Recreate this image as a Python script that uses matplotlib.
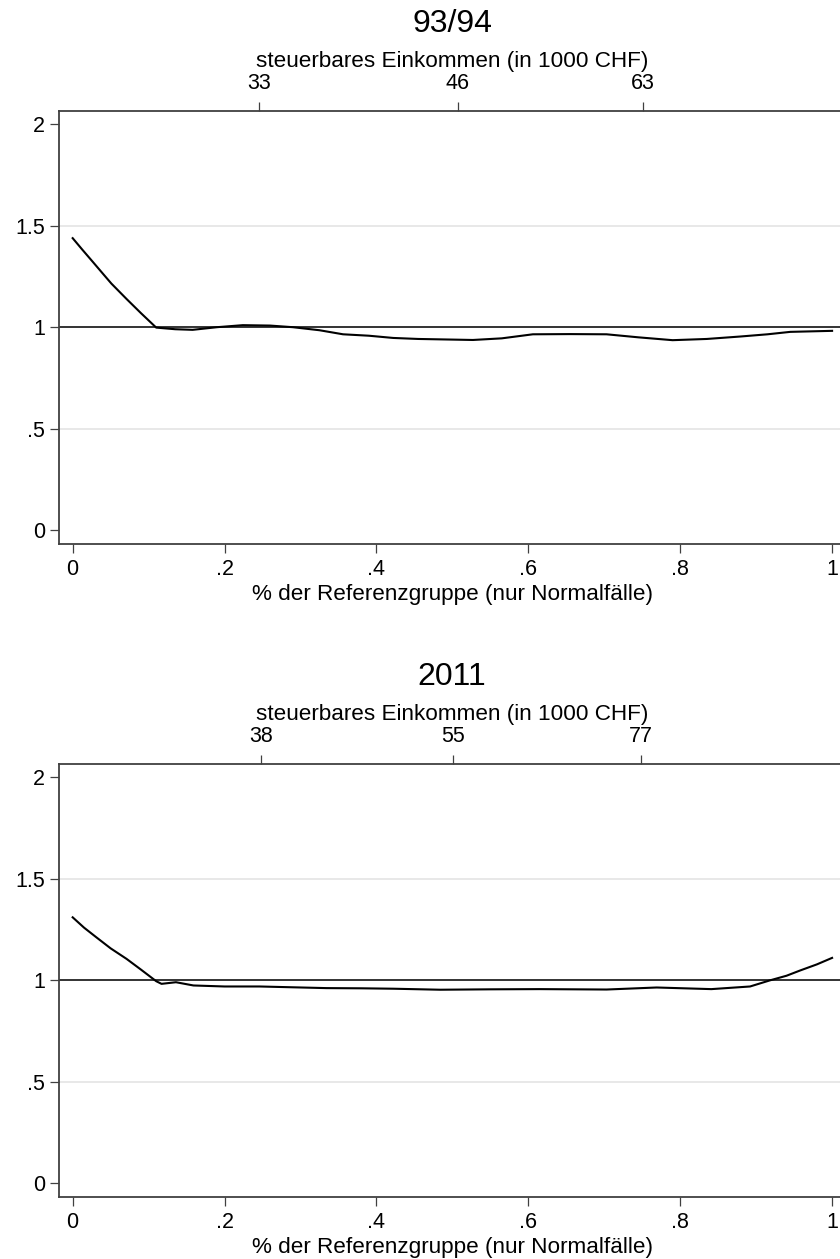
import numpy as np
import matplotlib
matplotlib.use("Agg")
import matplotlib.pyplot as plt

plt.rcParams['font.family'] = ['Liberation Sans', 'DejaVu Sans']

# Daten
titel = ["93/94", "2011"]

x_9394 = [0.0, 0.013, 0.027, 0.040, 0.051, 0.071, 0.090, 0.110, 0.135, 0.158,
          0.190, 0.224, 0.260, 0.290, 0.325, 0.356, 0.390, 0.422, 0.455,
          0.484, 0.527, 0.565, 0.606, 0.655, 0.703, 0.745, 0.790, 0.835,
          0.879, 0.915, 0.945, 1.0]
y_9394 = [1.439, 1.381, 1.32, 1.263, 1.215, 1.139, 1.069, 0.998, 0.99, 0.987,
          1.0, 1.01, 1.008, 1.0, 0.985, 0.965, 0.958, 0.947, 0.942,
          0.94, 0.937, 0.945, 0.965, 0.966, 0.965, 0.95, 0.936, 0.942,
          0.954, 0.965, 0.977, 0.982]

x_2011 = [0.0, 0.015, 0.031, 0.050, 0.071, 0.090, 0.110, 0.117, 0.136, 0.159,
          0.200, 0.246, 0.290, 0.334, 0.380, 0.422, 0.484, 0.550, 0.615,
          0.703, 0.769, 0.841, 0.892, 0.918, 0.940, 0.958, 0.980, 1.0]
y_2011 = [1.310, 1.259, 1.212, 1.157, 1.105, 1.052, 0.995, 0.982, 0.99, 0.974,
          0.969, 0.969, 0.965, 0.961, 0.96, 0.958, 0.953, 0.955, 0.956,
          0.954, 0.964, 0.956, 0.969, 0.999, 1.022, 1.048, 1.078, 1.110]

# obere Achse: Einkommen an den Quartilen
oben_pos_9394 = [0.245, 0.507, 0.751]
oben_lab_9394 = ["33", "46", "63"]
oben_pos_2011 = [0.248, 0.501, 0.748]
oben_lab_2011 = ["38", "55", "77"]

x_ticks = [0, 0.2, 0.4, 0.6, 0.8, 1.0]
x_ticklabels = ["0", ".2", ".4", ".6", ".8", "1"]
y_ticks = [0, 0.5, 1, 1.5, 2]
y_ticklabels = ["0", ".5", "1", "1.5", "2"]

panels = [
    (titel[0], x_9394, y_9394, oben_pos_9394, oben_lab_9394),
    (titel[1], x_2011, y_2011, oben_pos_2011, oben_lab_2011),
]

W, H = 840, 1259
fig = plt.figure(figsize=(W / 100, H / 100), dpi=100)

achse = '#404040'
# Position der Plotflächen in Pixel (oben, unten)
pix = [(111, 544), (764, 1197)]
left_px, right_px = 59, 845

for (t, xs, ys, op, ol), (top_px, bot_px) in zip(panels, pix):
    ax = fig.add_axes([left_px / W, 1 - bot_px / H,
                       (right_px - left_px) / W, (bot_px - top_px) / H])
    ax.set_xlim(-0.018, 1.017)
    ax.set_ylim(-0.069, 2.066)

    for g in [0.5, 1.5]:
        ax.axhline(g, color='#e6e6e6', lw=1.3, zorder=1)
    ax.axhline(1, color='#333333', lw=1.4, zorder=2)
    ax.plot(xs, ys, color='black', lw=1.5, zorder=3)

    ax.set_xticks(x_ticks)
    ax.set_xticklabels(x_ticklabels)
    ax.set_yticks(y_ticks)
    ax.set_yticklabels(y_ticklabels)
    ax.tick_params(axis='both', direction='out', length=6.5, width=0.9,
                   color=achse, labelsize=15.5)
    ax.tick_params(axis='x', pad=4)
    ax.tick_params(axis='y', pad=3.5)
    ax.set_xlabel("% der Referenzgruppe (nur Normalfälle)", fontsize=16.2,
                  labelpad=3)
    for s in ['left', 'bottom', 'top']:
        ax.spines[s].set_color(achse)
        ax.spines[s].set_linewidth(1.3)
    ax.spines['right'].set_visible(False)

    ax2 = ax.twiny()
    ax2.set_xlim(ax.get_xlim())
    ax2.set_xticks(op)
    ax2.set_xticklabels(ol)
    ax2.tick_params(axis='x', direction='out', length=6.5, width=0.9,
                    color=achse, labelsize=15.5, pad=6)
    ax2.set_xlabel("steuerbares Einkommen (in 1000 CHF)", fontsize=16.2,
                   labelpad=4)
    for s in ax2.spines.values():
        s.set_visible(False)
    ax2.set_title(t, fontsize=23, pad=13.5)

fig.savefig("out.png", dpi=100)
